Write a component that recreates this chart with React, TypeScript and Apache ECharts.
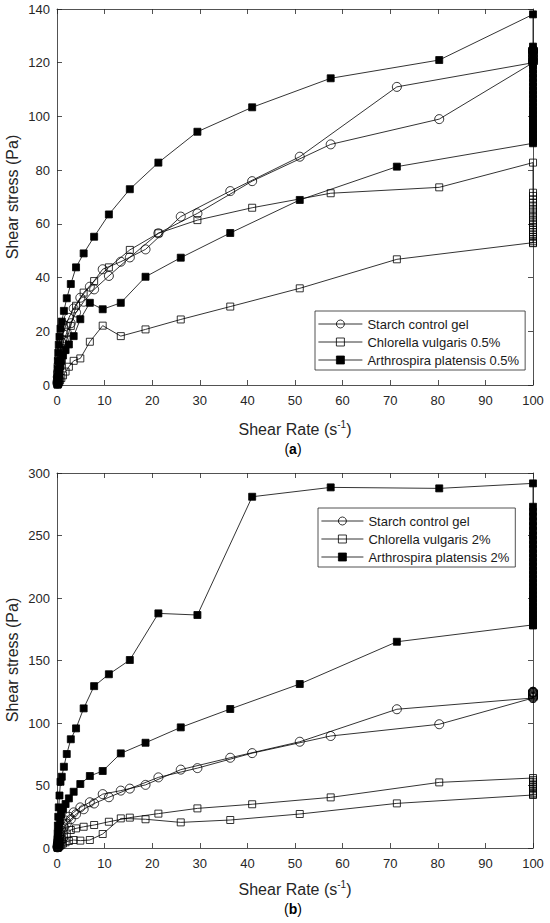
import React, { useEffect, useRef } from "react";
import * as echarts from "echarts";

// Shear rates (s^-1) of the up ramp and the down ramp
const upRates = [0.1, 0.14, 0.19, 0.27, 0.37, 0.52, 0.73, 1.0, 1.45, 2.05, 2.9, 4.0, 5.6, 7.8, 10.9, 15.3, 21.3, 29.5, 41.0, 57.5, 80.3, 100];
const downRates = [100, 71.4, 51.0, 36.4, 26.0, 18.6, 13.4, 9.6, 6.9, 4.9, 3.5, 2.5, 1.8, 1.27, 0.91, 0.65, 0.46, 0.33, 0.24, 0.17, 0.12];
const holdRate = 100;

// Starch control gel (same in both panels)
const starchUp = [0.5, 1.5, 3, 4.5, 6.5, 8.5, 11, 13.5, 16.5, 19.5, 23, 27, 31, 35.6, 40.6, 47.5, 56.5, 63.9, 75.9, 89.6, 99, 120];
const starchHold = [121, 122, 123, 124, 124.5, 125, 125, 124.5, 124, 123, 122, 121];
const starchDown = [120, 111, 85, 72.2, 62.7, 50.5, 45.9, 43.1, 36.6, 32.5, 28.5, 25, 22, 19, 16, 13, 10, 7.5, 5, 3, 1];

// Panel (a): 0.5 %
const chlorA_Up = [0.3, 0.8, 1.5, 2.5, 3.5, 5, 7, 9.5, 13, 17, 22, 29.5, 34.4, 38.7, 43.8, 50.3, 56.5, 61.4, 66, 71.4, 73.6, 82.8];
const chlorA_Hold = [71.6, 70.4, 69.1, 67.9, 66.8, 65.6, 64.6, 63.5, 62.5, 61.4, 60.5, 59.5, 58.6, 57.7, 56.9, 56.0, 55.2, 54.4, 53.7, 53.0];
const chlorA_Down = [52.8, 46.8, 36, 29.2, 24.4, 20.7, 18.2, 22.1, 16.1, 9.9, 9.0, 6.8, 5, 3.6, 2.6, 1.8, 1.2, 0.8, 0.5, 0.3, 0.1];

const arthA_Up = [3, 6, 9, 12, 15, 18, 21, 23.6, 27.6, 32.3, 37.6, 43.8, 49, 55.2, 63.5, 72.9, 82.8, 94.3, 103.4, 114.2, 121, 138];
const arthA_Hold = [126, 124.2, 122.5, 120.8, 119.1, 117.5, 115.9, 114.3, 112.7, 111.1, 109.6, 108.1, 106.6, 105.1, 103.6, 102.2, 100.8, 99.4, 98.0, 96.7, 95.4, 94.1, 92.9, 91.7, 90.6];
const arthA_Down = [90, 81.3, 68.9, 56.6, 47.4, 40.3, 30.6, 28.2, 30.6, 24.5, 18.2, 15.1, 13, 11, 9, 7, 5, 3.5, 2, 1, 0.4];

// Panel (b): 2 %
const chlorB_Up = [0.3, 0.8, 1.3, 2, 3, 4, 5.5, 7, 9, 11.5, 14.4, 15.7, 17, 18.4, 21, 24.3, 27.5, 31.7, 35, 40.5, 52.5, 56];
const chlorB_Hold = [54.5, 53, 51.5, 50, 48.5, 47, 45.5, 44.2, 43];
const chlorB_Down = [42.4, 35.7, 27.2, 22.4, 20.5, 23, 23.7, 11.2, 6.4, 5.9, 6.4, 5.6, 4.6, 3.6, 2.7, 2, 1.4, 1, 0.6, 0.3, 0.1];

const arthB_Up = [7, 12, 18, 25, 32.5, 42, 53, 57, 65, 75.2, 87, 95.7, 111.7, 129.5, 139, 150.4, 187.7, 186.4, 281, 288.5, 287.7, 291.7];
const arthB_Hold = [273, 269, 265.2, 261.3, 257.5, 253.8, 250, 246.4, 242.8, 239.2, 235.7, 232.2, 228.8, 225.4, 222, 218.7, 215.4, 212.1, 208.9, 205.7, 202.5, 199.4, 196.3, 193.2, 190.2, 187.2, 184.2, 181.3, 178.5];
const arthB_Down = [178, 165, 131.2, 111.2, 96.5, 84.2, 75.7, 61.6, 57.6, 51.2, 45, 39.7, 35.2, 31, 27, 22, 17, 12, 8, 4.5, 2];

const namesA = ["Starch control gel", "Chlorella vulgaris 0.5%", "Arthrospira platensis 0.5%"];
const namesB = ["Starch control gel", "Chlorella vulgaris 2%", "Arthrospira platensis 2%"];

const xTicks = { min: 0, max: 100, interval: 10 };
const yTicksA = { min: 0, max: 140, interval: 20 };
const yTicksB = { min: 0, max: 300, interval: 50 };

const FONT = "'Liberation Sans', Arial, Helvetica, sans-serif";
const AXIS_COLOR = "#262626";

function loop(up: number[], hold: number[], down: number[]) {
  const pts: number[][] = [];
  up.forEach((y, i) => pts.push([upRates[i], y]));
  hold.forEach((y) => pts.push([holdRate, y]));
  down.forEach((y, i) => pts.push([downRates[i], y]));
  return pts;
}

function series(name: string, data: number[][], idx: number, symbol: string, size: number, fill: string) {
  return {
    type: "line",
    name,
    data,
    xAxisIndex: idx,
    yAxisIndex: idx,
    symbol,
    symbolSize: size,
    showAllSymbol: true,
    clip: false,
    lineStyle: { color: "#000", width: 0.8 },
    itemStyle: { color: fill, borderColor: "#000", borderWidth: 0.8 },
    emphasis: { disabled: true },
  };
}

function xAxes(gridIndex: number) {
  const common = {
    type: "value",
    gridIndex,
    ...xTicks,
    splitLine: { show: false },
    axisLine: { show: true, onZero: false, lineStyle: { color: AXIS_COLOR, width: 0.8 } },
    axisTick: { show: true, inside: true, length: 5, lineStyle: { color: AXIS_COLOR, width: 0.8 } },
  };
  return [
    { ...common, position: "bottom", axisLabel: { color: AXIS_COLOR, fontSize: 13, fontFamily: FONT, margin: 9 } },
    { ...common, position: "top", axisLabel: { show: false } },
  ];
}

function yAxes(gridIndex: number, ticks: any) {
  const common = {
    type: "value",
    gridIndex,
    ...ticks,
    splitLine: { show: false },
    axisLine: { show: true, onZero: false, lineStyle: { color: AXIS_COLOR, width: 0.8 } },
    axisTick: { show: true, inside: true, length: 5, lineStyle: { color: AXIS_COLOR, width: 0.8 } },
  };
  return [
    { ...common, position: "left", axisLabel: { color: AXIS_COLOR, fontSize: 13, fontFamily: FONT, margin: 7 } },
    { ...common, position: "right", axisLabel: { show: false } },
  ];
}

function legend(names: string[], left: number, top: number, itemWidth: number) {
  return {
    data: names,
    orient: "vertical",
    left,
    top,
    itemWidth,
    itemHeight: 10,
    itemGap: 4,
    padding: [6, 6, 3, 3],
    borderColor: AXIS_COLOR,
    borderWidth: 0.8,
    borderRadius: 0,
    backgroundColor: "#fff",
    selectedMode: false,
    lineStyle: { color: "#000", width: 0.8 },
    itemStyle: { borderColor: "#000", borderWidth: 0.8 },
    textStyle: { fontSize: 13, fontFamily: FONT, color: "#1a1a1a", lineHeight: 14 },
  };
}

function texts() {
  const xTitle = (y: number) => ({
    type: "text",
    x: 295,
    y,
    style: {
      text: "{m|Shear Rate (s}{sup|-1}{m|)}",
      align: "center",
      verticalAlign: "middle",
      fill: AXIS_COLOR,
      rich: {
        m: { fontSize: 16, fontFamily: FONT, lineHeight: 20, fill: AXIS_COLOR },
        sup: { fontSize: 10, fontFamily: FONT, lineHeight: 11, verticalAlign: "top", fill: AXIS_COLOR },
      },
    },
  });
  const yTitle = (y: number) => ({
    type: "text",
    x: 12,
    y,
    rotation: Math.PI / 2,
    style: {
      text: "Shear stress (Pa)",
      align: "center",
      verticalAlign: "middle",
      fontSize: 16,
      fontFamily: FONT,
      fill: AXIS_COLOR,
    },
  });
  const panel = (label: string, y: number) => ({
    type: "text",
    x: 293,
    y,
    style: {
      text: "{n|(}{b|" + label + "}{n|)}",
      align: "center",
      verticalAlign: "middle",
      rich: {
        n: { fontSize: 14, fontFamily: FONT, fill: "#000" },
        b: { fontSize: 14, fontFamily: FONT, fontWeight: "bold", fill: "#000" },
      },
    },
  });
  return [xTitle(429), yTitle(197), panel("a", 449), xTitle(889), yTitle(660), panel("b", 909)];
}

export default function App() {
  const ref = useRef<HTMLDivElement>(null);
  useEffect(() => {
    if (!ref.current) return;
    const chart = echarts.init(ref.current, undefined, { renderer: "svg" });
    chart.setOption({
      animation: false,
      backgroundColor: "#fff",
      textStyle: { fontFamily: FONT },
      grid: [
        { left: 57, top: 9, width: 476, height: 376 },
        { left: 57, top: 473, width: 476, height: 375 },
      ],
      xAxis: [...xAxes(0), ...xAxes(1)],
      yAxis: [...yAxes(0, yTicksA), ...yAxes(1, yTicksB)],
      legend: [legend(namesA, 315, 311, 44), legend(namesB, 318, 508, 42)],
      series: [
        series(namesA[0], loop(starchUp, starchHold, starchDown), 0, "circle", 9, "rgba(0,0,0,0)"),
        series(namesA[1], loop(chlorA_Up, chlorA_Hold, chlorA_Down), 0, "rect", 7, "rgba(0,0,0,0)"),
        series(namesA[2], loop(arthA_Up, arthA_Hold, arthA_Down), 0, "rect", 7, "#000"),
        series(namesB[0], loop(starchUp, starchHold, starchDown), 2, "circle", 9, "rgba(0,0,0,0)"),
        series(namesB[1], loop(chlorB_Up, chlorB_Hold, chlorB_Down), 2, "rect", 7, "rgba(0,0,0,0)"),
        series(namesB[2], loop(arthB_Up, arthB_Hold, arthB_Down), 2, "rect", 7, "#000"),
      ],
      graphic: texts(),
    });
    return () => chart.dispose();
  }, []);
  return <div ref={ref} style={{ position: "absolute", left: 0, top: 0, width: 550, height: 923 }} />;
}
